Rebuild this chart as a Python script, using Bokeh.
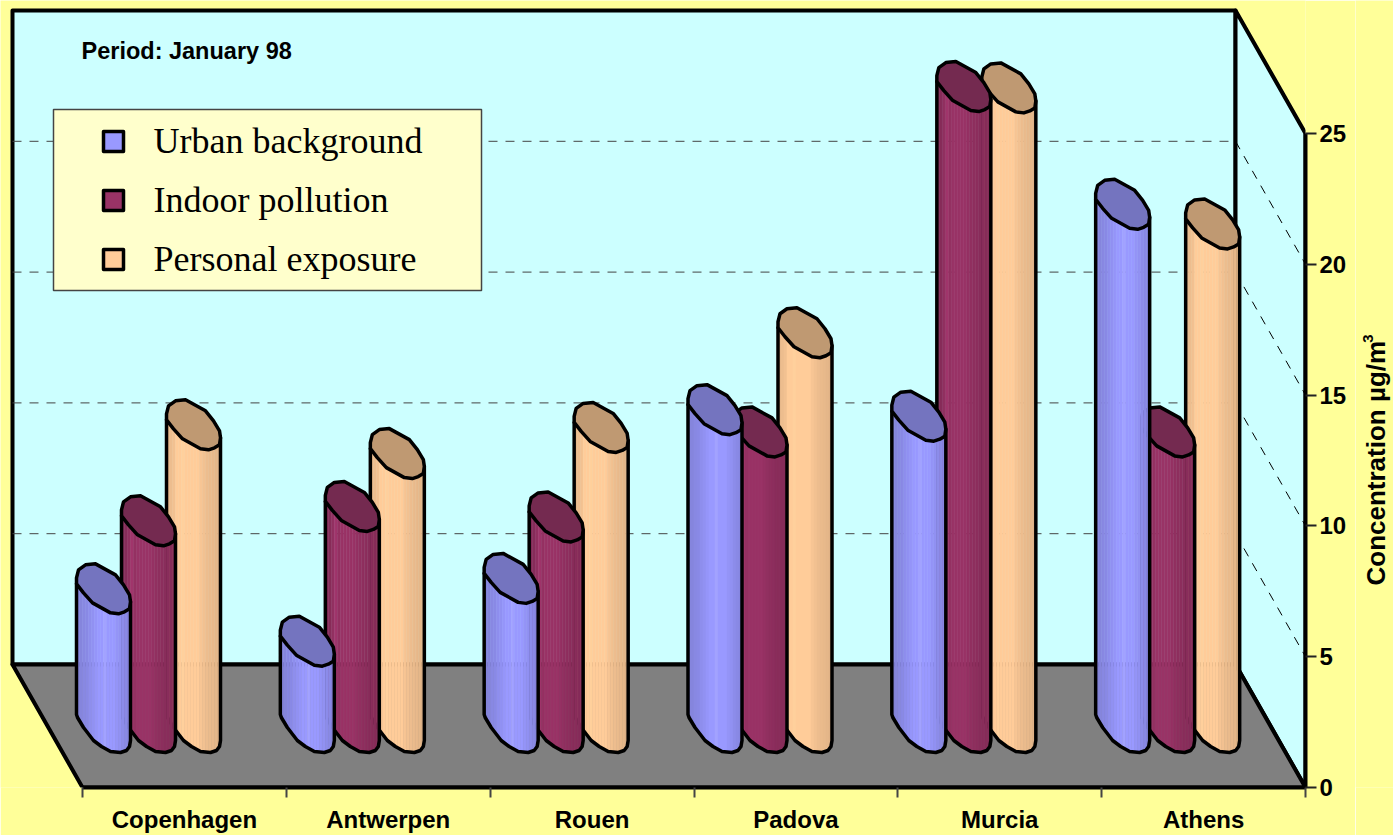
import numpy as np
from bokeh.plotting import figure
from bokeh.embed import file_html
from bokeh.layouts import row
from bokeh.resources import INLINE
from bokeh.models import ColumnDataSource, FixedTicker, Range1d
from bokeh.core.properties import value

cities = ["Copenhagen", "Antwerpen", "Rouen", "Padova", "Murcia", "Athens"]
urban_background = [5.3, 3.3, 5.7, 12.15, 11.9, 20.0]
indoor_pollution = [7.9, 8.45, 8.05, 11.3, 24.5, 11.3]
personal_exposure = [11.57, 10.47, 11.47, 15.09, 24.45, 19.25]
series_names = ["Urban background", "Indoor pollution", "Personal exposure"]
value_ticks = [0, 5, 10, 15, 20, 25]
period_text = "Period: January 98"
axis_title = "Concentration µg/m"
axis_title_power = "3"

BG, WALL, FLOOR, LEGEND = "#FFFF99", "#CCFFFF", "#808080", "#FFFFCC"
BODY = [(153, 153, 255), (153, 51, 102), (255, 204, 153)]
CAP = ["#7474BF", "#742A50", "#BF9972"]
SWATCH = ["#9999FF", "#993366", "#FFCC99"]

PX_X = 203.83            # px per category
PX_Y = 26.16             # px per concentration unit
DEPTH_Y = 123 / PX_Y
FRONT_X0 = 82            # px of category 0
MAIN_W = 1355            # width of the main figure; the axis title sits in a strip beside it

def X(px):               # page px -> category units
    return (np.asarray(px, dtype=float) - FRONT_X0) / PX_X

def Y(px):               # page px -> concentration units
    return (787 - np.asarray(px, dtype=float)) / PX_Y

p = figure(width=MAIN_W, height=835, output_backend="svg", toolbar_location=None,
           x_range=Range1d(float(X(0)), 6), y_range=Range1d(0, float(Y(0))),
           y_axis_location="right", min_border_left=0, min_border_top=0,
           min_border_right=MAIN_W - 1305, min_border_bottom=48,
           background_fill_color=BG, border_fill_color=BG, outline_line_color=None)
p.grid.visible = False

# ---- walls and floor
bx0, bx1 = float(X(12)), float(X(1235))
p.patch([bx0, bx1, bx1, bx0], [DEPTH_Y, DEPTH_Y, float(Y(10)), float(Y(10))],
        fill_color=WALL, line_color="black", line_width=4, line_join="round")
p.patch([bx1, 6, 6, bx1], [float(Y(10)), 25, 0, DEPTH_Y],
        fill_color=WALL, line_color="black", line_width=4, line_join="round")
p.patch([bx0, bx1, 6, 0], [DEPTH_Y, DEPTH_Y, 0, 0],
        fill_color=FLOOR, line_color="black", line_width=4, line_join="round")

# ---- gridlines
for v in value_ticks[1:-1]:
    p.line([bx0, bx1], [v + DEPTH_Y] * 2, line_color="#444444", line_width=1, line_dash="9 8")
    p.line([bx1, 6], [v + DEPTH_Y, v], line_color="black", line_width=1, line_dash="9 8")

# ---- bars
cap_rel = [(0, 14), (2, 6), (9, 1), (19, 0), (39, 11), (47, 21), (53, 31), (54, 38), (53, 45),
           (48, 48), (42, 50), (34, 49), (16, 39), (7, 29), (0, 20)]
low_rel = [(0, 20), (7, 29), (16, 39), (34, 49), (42, 50), (48, 49), (52, 46), (54, 38)]
base_rel = [(0, 12), (1, 15), (7, 25), (17, 38), (25, 44), (34, 49), (44, 50), (50, 48), (53, 44), (54, 38)]
low_x = [a for a, b in low_rel]
low_y = [b for a, b in low_rel]
base_x = [a for a, b in base_rel]
base_y = [b for a, b in base_rel]
edges = np.arange(0, 55, 3)
shade = {
    0: [.87, .87, .89, .90, .93, .95, .98, 1.0, 1.0, 1.06, 1.0, 1.0, 1.0, .97, .95, .92, .90, .88],
    1: [.86, .88, .95, 1.05, .97, 1.0, 1.0, 1.0, 1.0, 1.0, .98, .95, .93, .92, .90, .90, .88, .87],
    2: [.90, .93, .95, 1.0, 1.0, 1.02, 1.0, 1.0, 1.0, 1.0, 1.0, .97, .95, .93, .92, .91, .90, .88],
}
BAR_OFFSET = [-6, 39, 84]

xs, ys, fills, falpha, lines, lwidth = [], [], [], [], [], []

def add(x, y, fill, fa, line, lw):
    xs.append(list(map(float, x)))
    ys.append(list(map(float, y)))
    fills.append(fill); falpha.append(fa); lines.append(line); lwidth.append(lw)

def yv(rel, v):
    return v + 85 / PX_Y - np.asarray(rel, dtype=float) / PX_Y

all_values = [urban_background, indoor_pollution, personal_exposure]
for g in range(len(cities)):
    for s in (2, 1, 0):
        v = all_values[s][g]
        x0 = g * PX_X + BAR_OFFSET[s]
        for i in range(len(edges) - 1):
            a, b = edges[i], edges[i + 1]
            ya_, yb_ = np.interp(a, low_x, low_y), np.interp(b, low_x, low_y)
            ba_, bb_ = np.interp(a, base_x, base_y), np.interp(b, base_x, base_y)
            c = [min(255, int(k * shade[s][i])) for k in BODY[s]]
            col = "#%02X%02X%02X" % tuple(c)
            add([(x0 + a) / PX_X, (x0 + b) / PX_X, (x0 + b) / PX_X, (x0 + a) / PX_X],
                [yv(ya_ - 2, v), yv(yb_ - 2, v), yv(bb_, 0), yv(ba_, 0)], col, 1, col, 0.5)
        # body outline
        ox = [(x0 + 0) / PX_X] + [(x0 + a) / PX_X for a in base_x] + [(x0 + 54) / PX_X]
        oy = [yv(20, v)] + [yv(b, 0) for b in base_y] + [yv(38, v)]
        add(ox, oy, "#000000", 0, "black", 3.5)
        # cap
        add([(x0 + a) / PX_X for a, b in cap_rel], [yv(b, v) for a, b in cap_rel],
            CAP[s], 1, "black", 3.5)

src = ColumnDataSource(dict(xs=xs, ys=ys, fill=fills, fa=falpha, line=lines, lw=lwidth))
p.patches("xs", "ys", source=src, fill_color="fill", fill_alpha="fa", line_color="line",
          line_width="lw", line_join="round")

# ---- period text
p.text([float(X(81))], [float(Y(50))], text=[period_text], text_font=value("Liberation Sans"),
       text_font_style="bold", text_font_size="23.5px", text_color="black",
       text_baseline="middle")

# ---- legend box
lx0, lx1, ly0, ly1 = float(X(53)), float(X(481)), float(Y(109)), float(Y(290))
p.patch([lx0, lx1, lx1, lx0], [ly0, ly0, ly1, ly1], fill_color=LEGEND, line_color="#444444", line_width=1.5)
rows = [141, 200, 259]
p.scatter([float(X(113))] * 3, [float(Y(r)) for r in rows], marker="square", size=20,
          fill_color=SWATCH, line_color="black", line_width=3.5, line_join="round")
p.text([float(X(153))] * 3, [float(Y(r - 1)) for r in rows], text=series_names,
       text_font=value("Liberation Serif"), text_font_size="36px", text_color="black",
       text_baseline="middle")

# ---- axes
ya = p.yaxis[0]
ya.ticker = FixedTicker(ticks=value_ticks)
ya.bounds = (0, 25)
ya.axis_line_color = "black"
ya.axis_line_width = 4
ya.major_tick_line_color = "#222222"
ya.major_tick_line_width = 2
ya.major_tick_out = 11
ya.major_tick_in = 0
ya.minor_tick_line_color = None
ya.major_label_text_font = "Liberation Sans"
ya.major_label_text_font_style = "bold"
ya.major_label_text_font_size = "24px"
ya.major_label_text_color = "black"
ya.major_label_standoff = 3

centers = [i + 0.5 for i in range(len(cities))]
xa = p.xaxis[0]
xa.ticker = FixedTicker(ticks=centers, minor_ticks=list(range(len(cities) + 1)))
xa.major_label_overrides = {c: n for c, n in zip(centers, cities)}
xa.bounds = (0, 6)
xa.axis_line_color = "black"
xa.axis_line_width = 4
xa.major_tick_line_color = None
xa.major_tick_out = 10
xa.major_tick_in = 0
xa.minor_tick_line_color = "#444444"
xa.minor_tick_line_width = 2
xa.minor_tick_out = 10
xa.minor_tick_in = 0
xa.major_label_text_font = "Liberation Sans"
xa.major_label_text_font_style = "bold"
xa.major_label_text_font_size = "24px"
xa.major_label_text_color = "black"
xa.major_label_standoff = 8

# ---- axis title strip beside the main figure (its frame is aligned to the main frame's height)
t = figure(width=1393 - MAIN_W, height=835, output_backend="svg", toolbar_location=None,
           x_range=Range1d(MAIN_W, 1393), y_range=Range1d(787, 0),
           x_axis_location=None, y_axis_location=None,
           min_border_left=0, min_border_right=0, min_border_top=0, min_border_bottom=48,
           background_fill_color=BG, border_fill_color=BG, outline_line_color=None)
t.grid.visible = False
t.text([1375], [585], text=[axis_title], angle=np.pi / 2, text_font=value("Liberation Sans"),
       text_font_style="bold", text_font_size="26px", text_color="black",
       text_align="left", text_baseline="middle")
t.text([1367], [338], text=[axis_title_power], angle=np.pi / 2, text_font=value("Liberation Sans"),
       text_font_style="bold", text_font_size="15px", text_color="black",
       text_align="center", text_baseline="middle")

page = row(p, t, spacing=0)
open("out.html", "w").write(file_html(page, INLINE))
